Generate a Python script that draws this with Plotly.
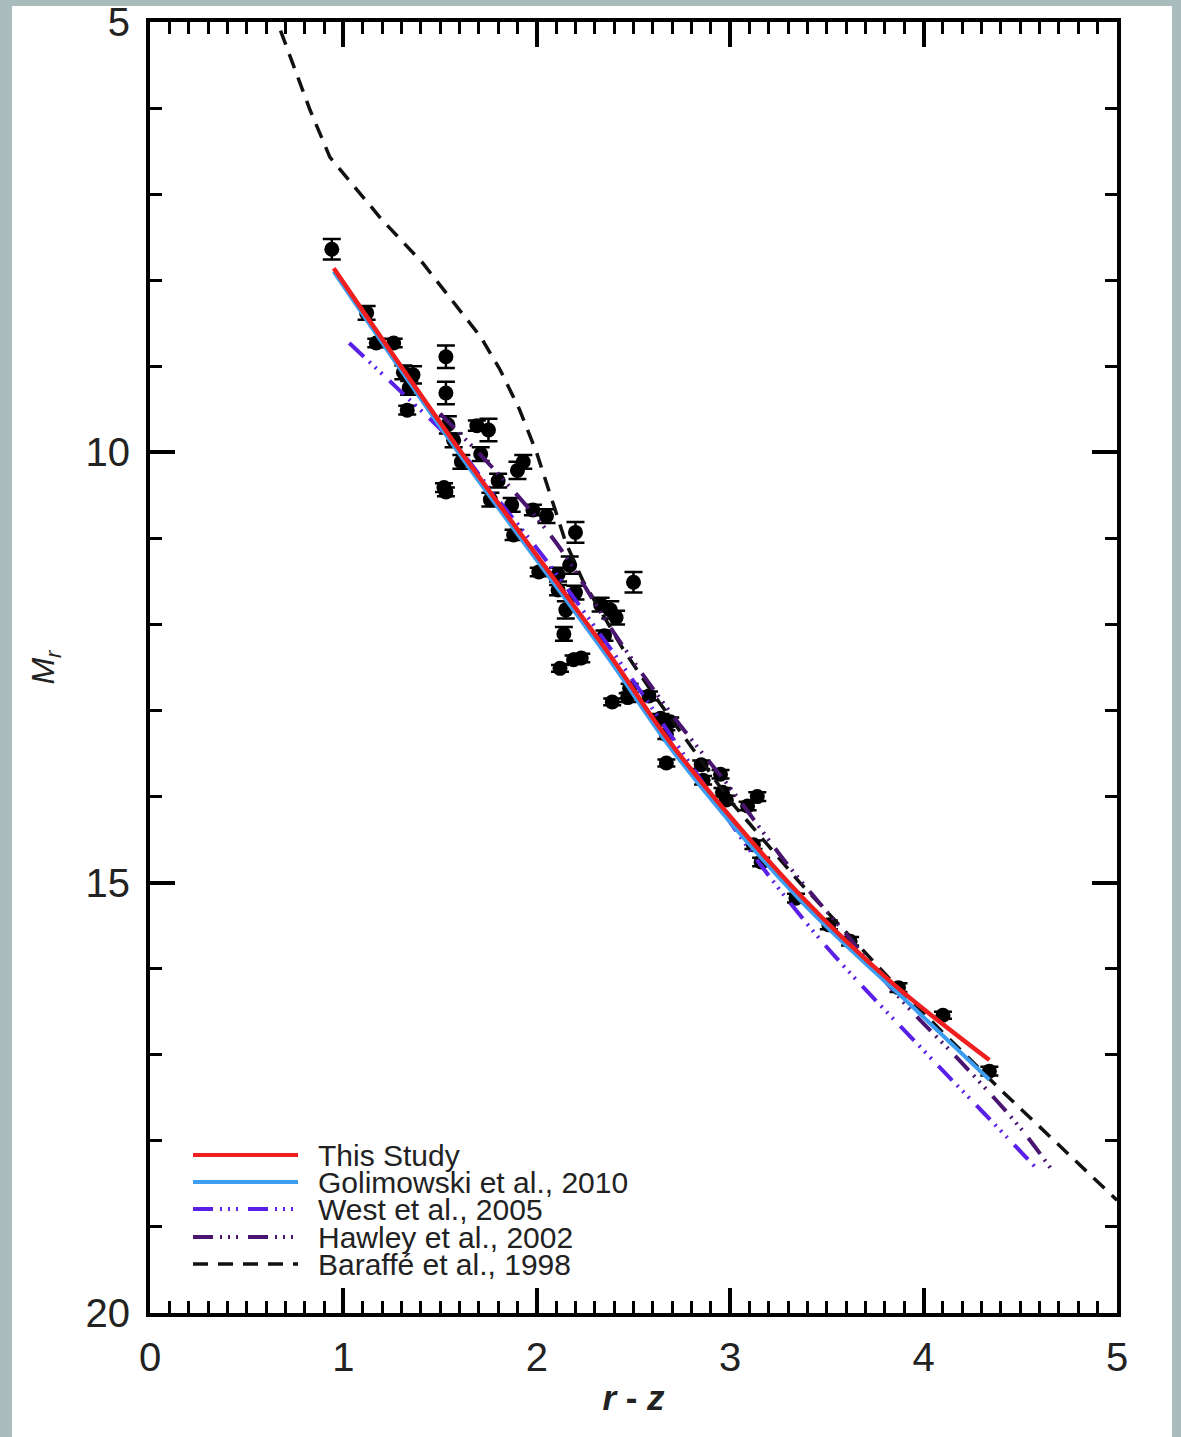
import plotly.graph_objects as go

# ---------------- data ----------------
# observed stars: r - z colour, absolute magnitude M_r, uncertainty
obs_rz = [0.94, 1.12, 1.17, 1.26, 1.31, 1.36, 1.34, 1.33, 1.53, 1.53, 1.54, 1.57, 1.52, 1.53,
          1.61, 1.69, 1.75, 1.71, 1.80, 1.76, 1.87, 1.90, 1.93, 1.88, 1.98, 2.05, 2.20, 2.01,
          2.11, 2.17, 2.20, 2.11, 2.15, 2.14, 2.12, 2.19, 2.23, 2.33, 2.38, 2.41, 2.35, 2.50,
          2.39, 2.47, 2.48, 2.58, 2.64, 2.69, 2.67, 2.67, 2.85, 2.86, 2.95, 2.96, 2.98, 3.09,
          3.14, 3.12, 3.16, 3.34, 3.51, 3.62, 3.87, 4.10, 4.34]
obs_mr = [7.64, 8.38, 8.73, 8.73, 9.07, 9.10, 9.25, 9.51, 8.89, 9.31, 9.68, 9.86, 10.41, 10.46,
          10.11, 9.69, 9.74, 10.02, 10.33, 10.55, 10.61, 10.21, 10.11, 10.96, 10.67, 10.74, 10.93, 11.39,
          11.42, 11.31, 11.63, 11.60, 11.83, 12.11, 12.51, 12.41, 12.39, 11.77, 11.83, 11.92, 12.13, 11.51,
          12.90, 12.85, 12.74, 12.83, 13.09, 13.13, 13.28, 13.61, 13.63, 13.81, 13.74, 13.95, 14.04, 14.11,
          14.00, 14.56, 14.76, 15.18, 15.49, 15.68, 16.22, 16.54, 17.19]
obs_err = [0.12, 0.08, 0.05, 0.05, 0.08, 0.10, 0.08, 0.05, 0.13, 0.13, 0.10, 0.08, 0.05, 0.05,
           0.08, 0.06, 0.13, 0.08, 0.08, 0.08, 0.08, 0.10, 0.08, 0.06, 0.06, 0.08, 0.12, 0.05,
           0.08, 0.10, 0.08, 0.06, 0.10, 0.08, 0.04, 0.05, 0.05, 0.08, 0.10, 0.08, 0.06, 0.12,
           0.04, 0.05, 0.05, 0.05, 0.05, 0.05, 0.05, 0.04, 0.05, 0.05, 0.05, 0.05, 0.05, 0.05,
           0.05, 0.05, 0.05, 0.05, 0.05, 0.05, 0.05, 0.04, 0.05]

# relations
this_rz = [0.95, 1.60, 2.36, 2.72, 3.36, 3.84, 4.34]
this_mr = [7.86, 9.97, 12.30, 13.46, 15.14, 16.17, 17.06]

gol_rz = [0.95, 1.60, 2.36, 2.72, 3.36, 3.97, 4.34]
gol_mr = [7.90, 10.02, 12.36, 13.52, 15.20, 16.50, 17.29]

west_rz = [1.03, 1.30, 1.57, 1.80, 2.05, 2.50, 3.00, 3.19, 3.50, 4.00, 4.30, 4.58]
west_mr = [8.73, 9.30, 9.89, 10.55, 11.26, 12.66, 14.30, 14.89, 15.75, 16.95, 17.65, 18.31]

haw_rz = [1.50, 1.80, 2.10, 2.40, 2.70, 3.00, 3.30, 3.60, 3.90, 4.20, 4.50, 4.67]
haw_mr = [9.55, 10.25, 11.05, 12.10, 13.05, 13.90, 14.80, 15.60, 16.40, 17.10, 17.85, 18.36]

bar_rz = [0.675, 0.76, 0.827, 0.93, 1.03, 1.20, 1.41, 1.55, 1.71, 1.81, 1.91, 2.00, 2.07,
          2.15, 2.24, 2.45, 2.60, 3.00, 3.36, 3.88, 4.40, 5.00]
bar_mr = [5.10, 5.62, 6.02, 6.57, 6.84, 7.30, 7.80, 8.20, 8.66, 9.04, 9.50, 10.01, 10.50,
          11.05, 11.50, 12.30, 12.80, 14.05, 15.00, 16.25, 17.41, 18.69]

x_ticks = [0, 1, 2, 3, 4, 5]
y_ticks = [5, 10, 15, 20]

legend_names = ["This Study", "Golimowski et al., 2010", "West et al., 2005",
                "Hawley et al., 2002", "Baraff\u00e9 et al., 1998"]

# ---------------- styles ----------------
RED = "#f01e1e"
BLUE = "#3d9df2"
WEST = "#5a20e8"
HAW = "#4a1570"
BLK = "#111111"
DASH_WEST = "20px,7px,2px,6px,2px,6px,2px,10px"
DASH_BAR = "15px,10px"

fig = go.Figure()

fig.add_trace(go.Scatter(
    x=obs_rz, y=obs_mr, mode="markers",
    marker=dict(color="black", size=15),
    error_y=dict(type="data", array=obs_err, color="black", thickness=2.5, width=9),
    showlegend=False, hoverinfo="x+y"))

fig.add_trace(go.Scatter(x=bar_rz, y=bar_mr, mode="lines",
                         line=dict(color=BLK, width=3.5, dash=DASH_BAR), name=legend_names[4],
                         showlegend=False))
fig.add_trace(go.Scatter(x=haw_rz, y=haw_mr, mode="lines",
                         line=dict(color=HAW, width=4, dash=DASH_WEST, shape="spline"),
                         name=legend_names[3], showlegend=False))
fig.add_trace(go.Scatter(x=west_rz, y=west_mr, mode="lines",
                         line=dict(color=WEST, width=4, dash=DASH_WEST, shape="spline"),
                         name=legend_names[2], showlegend=False))
fig.add_trace(go.Scatter(x=gol_rz, y=gol_mr, mode="lines",
                         line=dict(color=BLUE, width=4, shape="spline"),
                         name=legend_names[1], showlegend=False))
fig.add_trace(go.Scatter(x=this_rz, y=this_mr, mode="lines",
                         line=dict(color=RED, width=4.5, shape="spline"),
                         name=legend_names[0], showlegend=False))

# ---------------- layout geometry ----------------
W, H = 1181, 1437
L, R, T, B = 150, 1117, 22, 1313
pw, ph = R - L, B - T


def px2x(px):
    return (px - L) / pw


def py2y(py):
    return (B - py) / ph


shapes = [
    # white panel on grey backdrop
    dict(type="rect", xref="paper", yref="paper", layer="below",
         x0=px2x(12), x1=px2x(1172), y0=py2y(1440), y1=py2y(6),
         fillcolor="white", line=dict(width=0)),
]

annotations = []
leg_styles = [
    dict(color=RED, width=4, dash="solid"),
    dict(color=BLUE, width=4, dash="solid"),
    dict(color=WEST, width=4, dash=DASH_WEST),
    dict(color=HAW, width=4, dash=DASH_WEST),
    dict(color=BLK, width=3.5, dash=DASH_BAR),
]
row_y = [1155, 1182, 1209, 1237, 1264]
for name, st, ry in zip(legend_names, leg_styles, row_y):
    shapes.append(dict(type="line", xref="paper", yref="paper", layer="above",
                       x0=px2x(193), x1=px2x(298), y0=py2y(ry), y1=py2y(ry),
                       line=st))
    annotations.append(dict(xref="paper", yref="paper", x=px2x(316), y=py2y(ry),
                            xanchor="left", yanchor="middle", showarrow=False,
                            text=name, font=dict(size=30, color="#222222",
                                                 family="Liberation Sans")))

axis_common = dict(
    showline=True, linecolor="black", linewidth=4, mirror="allticks",
    ticks="inside", ticklen=25, tickwidth=3.5, tickcolor="black",
    showgrid=False, zeroline=False,
    tickfont=dict(size=40, color="#222222", family="Liberation Sans"),
)

fig.update_layout(
    width=W, height=H,
    margin=dict(l=L, r=W - R, t=T, b=H - B, autoexpand=False),
    paper_bgcolor="#a9bbbb",
    plot_bgcolor="white",
    shapes=shapes,
    annotations=annotations,
    xaxis=dict(range=[0, 5], tickvals=x_ticks, ticktext=[str(v) for v in x_ticks],
               minor=dict(dtick=0.1, tick0=0, ticks="inside", ticklen=12, tickwidth=2.5,
                          tickcolor="black", showgrid=False),
               ticklabelstandoff=6,
               title=dict(text="<b><i>r</i> - <i>z</i></b>", standoff=8,
                          font=dict(size=35, color="#222222", family="Liberation Sans")),
               **axis_common),
    yaxis=dict(range=[20, 5], tickvals=y_ticks, ticktext=[str(v) for v in y_ticks],
               minor=dict(dtick=1, tick0=5, ticks="inside", ticklen=12, tickwidth=2.5,
                          tickcolor="black", showgrid=False),
               ticklabelstandoff=8,
               title=dict(text="<i>M<sub>r</sub></i>", standoff=22,
                          font=dict(size=32, color="#222222", family="Liberation Sans")),
               **axis_common),
    showlegend=False,
)

fig.write_html("out.html")
